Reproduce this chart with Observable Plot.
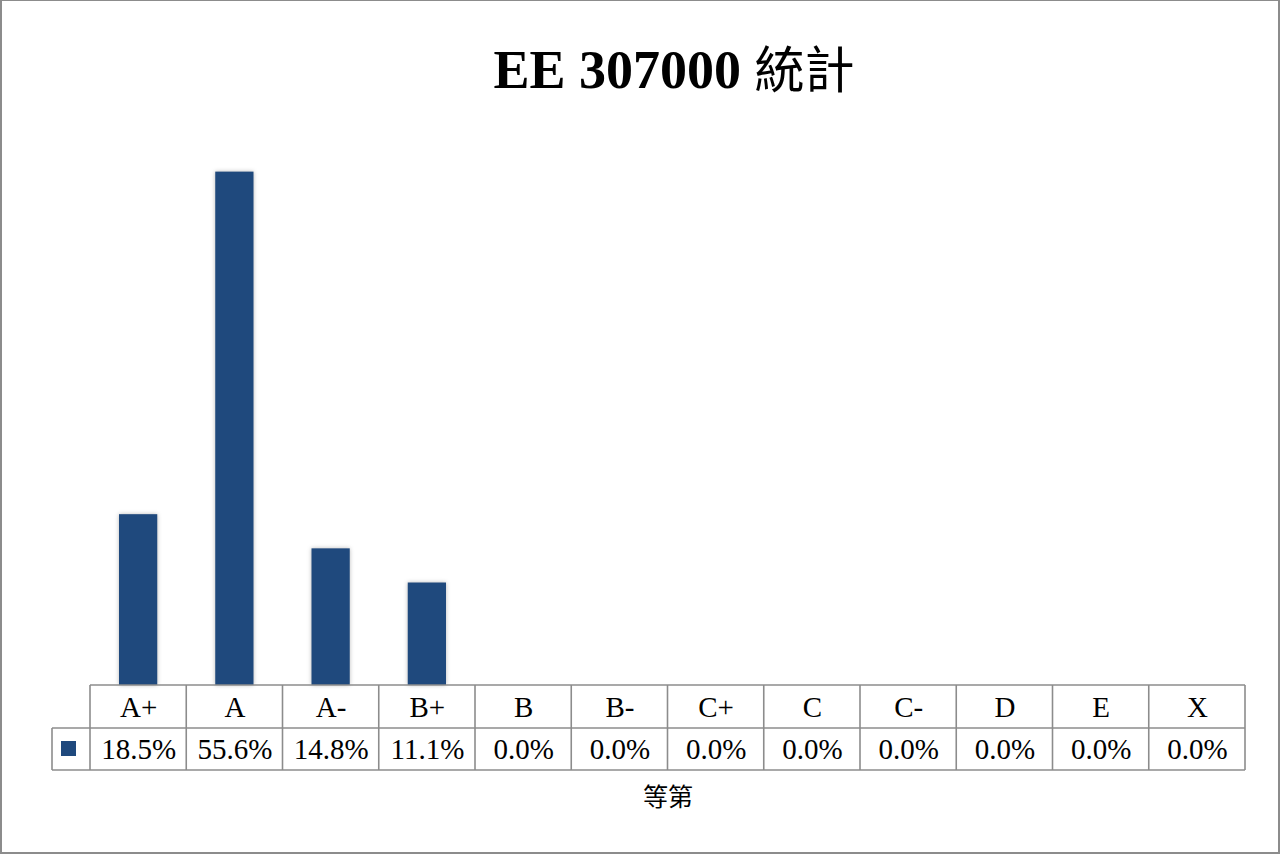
<!DOCTYPE html>
<html><head><meta charset="utf-8">
<script src="https://cdn.jsdelivr.net/npm/d3@7"></script>
<script src="https://cdn.jsdelivr.net/npm/@observablehq/plot@0.6"></script>
<style>
html,body{margin:0;padding:0;background:#fff;}
#wrap{position:relative;width:1280px;height:854px;overflow:hidden;background:#fff;}
#frame{position:absolute;left:0;top:0;width:1280px;height:854px;box-sizing:border-box;border:2px solid #8c8c8c;border-top-width:1px;pointer-events:none;}
#chart svg{display:block;}
g[aria-label="bar"] rect{filter:drop-shadow(0 0 2px rgba(0,0,0,0.28));}
</style></head><body>
<div id="wrap"><div id="chart"></div><div id="frame"></div></div>
<script>
// ---- data ----
const grades = ["A+", "A", "A-", "B+", "B", "B-", "C+", "C", "C-", "D", "E", "X"];
const percents = [18.5, 55.6, 14.8, 11.1, 0, 0, 0, 0, 0, 0, 0, 0];
const titleLatin = "EE 307000";
const titleCJK = "統計";
const xLabel = "等第";
const barColor = "#1f497d";
const gridColor = "#8c8c8c";

const rows = grades.map((g, i) => ({grade: g, pct: percents[i]}));
const fmt = v => v.toFixed(1) + "%";

const serif = "'Liberation Serif','Times New Roman',serif";
const cjk = "'Noto Sans CJK TC','Noto Sans CJK SC',sans-serif";

const HEADER_H = 43, DATA_H = 42, LEGEND_W = 38;

function tableMark(index, scales, values, dim) {
  const x = scales.x;
  const bw = x.bandwidth ? x.bandwidth() : (x(grades[1]) - x(grades[0]));
  const y0 = dim.height - dim.marginBottom;
  const left = dim.marginLeft, right = dim.width - dim.marginRight;
  const g = d3.create("svg:g").attr("fill", "none").attr("stroke", gridColor).attr("stroke-width", 1.6);
  // horizontal lines
  g.append("line").attr("x1", left).attr("x2", right).attr("y1", y0).attr("y2", y0);
  g.append("line").attr("x1", left - LEGEND_W).attr("x2", right).attr("y1", y0 + HEADER_H).attr("y2", y0 + HEADER_H);
  g.append("line").attr("x1", left - LEGEND_W).attr("x2", right).attr("y1", y0 + HEADER_H + DATA_H).attr("y2", y0 + HEADER_H + DATA_H);
  // vertical lines
  g.append("line").attr("x1", left - LEGEND_W).attr("x2", left - LEGEND_W).attr("y1", y0 + HEADER_H).attr("y2", y0 + HEADER_H + DATA_H);
  grades.forEach(gr => {
    const xs = x(gr);
    g.append("line").attr("x1", xs).attr("x2", xs).attr("y1", y0).attr("y2", y0 + HEADER_H + DATA_H);
  });
  const xe = x(grades[grades.length - 1]) + bw;
  g.append("line").attr("x1", xe).attr("x2", xe).attr("y1", y0).attr("y2", y0 + HEADER_H + DATA_H);
  // legend swatch
  g.append("rect").attr("x", left - LEGEND_W + 9).attr("y", y0 + HEADER_H + 13)
    .attr("width", 15).attr("height", 15).attr("fill", barColor).attr("stroke", "none");
  return g.node();
}

function titleMark(index, scales, values, dim) {
  const cx = (dim.marginLeft + dim.width - dim.marginRight) / 2 + 6.5;
  const t = d3.create("svg:text")
    .attr("x", cx).attr("y", dim.marginTop - 43)
    .attr("text-anchor", "middle").attr("fill", "#000");
  t.append("tspan").attr("font-family", serif).attr("font-weight", "bold").attr("font-size", 54).text(titleLatin + " ");
  t.append("tspan").attr("font-family", cjk).attr("font-weight", "normal").attr("font-size", 50).text(titleCJK);
  return t.node();
}

const chart = Plot.plot({
  width: 1280,
  height: 854,
  marginTop: 131,
  marginBottom: 169,
  marginLeft: 90,
  marginRight: 35,
  style: {background: "transparent", overflow: "visible"},
  x: {type: "band", domain: grades, paddingInner: 0, paddingOuter: 0, round: false, axis: null},
  y: {domain: [0, 60], axis: null},
  marks: [
    Plot.barY(rows, {x: "grade", y: "pct", fill: barColor, insetLeft: 29, insetRight: 29}),
    tableMark,
    Plot.text(rows, {x: "grade", text: "grade", frameAnchor: "bottom", dy: 22, lineAnchor: "middle",
      fontFamily: serif, fontSize: 29, fill: "#000"}),
    Plot.text(rows, {x: "grade", text: d => fmt(d.pct), frameAnchor: "bottom", dy: 64, lineAnchor: "middle",
      fontFamily: serif, fontSize: 29, fill: "#000"}),
    Plot.text([xLabel], {text: d => d, frameAnchor: "bottom", dy: 112, lineAnchor: "middle",
      fontFamily: cjk, fontSize: 25, fill: "#000"}),
    titleMark
  ]
});
document.getElementById("chart").appendChild(chart);
</script>
</body></html>
